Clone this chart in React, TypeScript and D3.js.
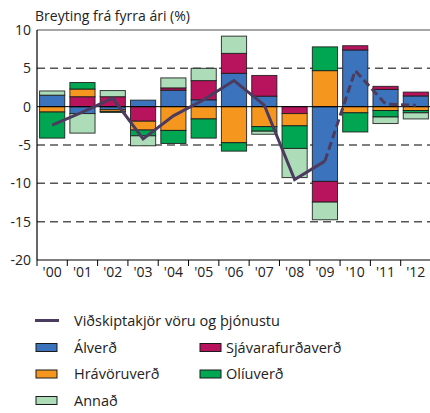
import React from "react";
import * as d3 from "d3";

const years = ["'00", "'01", "'02", "'03", "'04", "'05", "'06", "'07", "'08", "'09", "'10", "'11", "'12"];
const alverd = [1.5, -0.9, -0.4, 0.85, 2.15, 0.9, 4.35, 1.37, 0, -9.75, 7.4, 2.25, 1.4];
const sjavar = [0, 1.3, 1.3, -1.9, 0.3, 2.5, 2.6, 2.7, -0.9, -2.7, 0.55, 0.4, 0.5];
const hravoru = [-0.7, 1.0, -0.25, -1.15, -3.1, -1.6, -4.7, -2.6, -1.6, 4.7, -0.8, -0.5, -0.5];
const oliu = [-3.4, 0.85, -0.1, -0.75, -1.7, -2.5, -1.1, -0.6, -2.95, 3.1, -2.5, -0.85, -0.3];
const annad = [0.55, -2.55, 0.8, -1.3, 1.3, 1.6, 2.25, -0.4, -3.8, -2.3, 0, -0.85, -0.8];
const terms = [-2.4, -0.7, 1.1, -4.2, -1.2, 0.9, 3.4, 0.2, -9.5, -7.1, 4.7, 0.35, 0.18];
const yTicks = [10, 5, 0, -5, -10, -15, -20];

const seriesKeys = ["alverd", "sjavar", "hravoru", "oliu", "annad"];
const seriesNames = ["Álverð", "Sjávarafurðaverð", "Hrávöruverð", "Olíuverð", "Annað"];
const seriesColors = ["#3b74bc", "#b8145d", "#f5961f", "#00a651", "#acdcb8"];
const lineName = "Viðskiptakjör vöru og þjónustu";
const lineColor = "#4b3b5e";
const title = "Breyting frá fyrra ári (%)";

const FONT = "'Open Sans', sans-serif";

export default function App() {
  const left = 37, right = 431, top = 30, bottom = 260;
  const y = d3.scaleLinear().domain([-20, 10]).range([bottom, top]);
  const xb = d3.scaleBand().domain(years).range([left, right]).padding(0);
  const x = d3.scaleBand().domain(years).range([left, right]).paddingInner(0.17).paddingOuter(0.085);

  const table = years.map((yr, i) => ({
    year: yr,
    alverd: alverd[i], sjavar: sjavar[i], hravoru: hravoru[i], oliu: oliu[i], annad: annad[i],
  }));
  const stack = d3.stack<any>().keys(seriesKeys).offset(d3.stackOffsetDiverging);
  const stacked = stack(table);

  const cx = (yr: string) => (xb(yr) as number) + xb.bandwidth() / 2;
  const pts: [number, number][] = years.map((yr, i) => [cx(yr), y(terms[i])]);
  const lineGen = d3.line();
  const solidPath = lineGen(pts.slice(0, 10)) as string;
  const dashPath = lineGen(pts.slice(9)) as string;

  const legendRows = [
    { col: 0, row: 1, i: 0 },
    { col: 1, row: 1, i: 1 },
    { col: 0, row: 2, i: 2 },
    { col: 1, row: 2, i: 3 },
    { col: 0, row: 3, i: 4 },
  ];
  const rowY = (r: number) => 321 + r * 26.5;

  return (
    <svg width={430} height={413} style={{ position: "absolute", left: 0, top: 0 }} fontFamily={FONT}>
      <rect width={430} height={413} fill="#fff" />
      <text x={35} y={21} fontSize={14} fill="#222">{title}</text>

      {/* grid */}
      {yTicks.filter((t) => t !== 0 && t !== 10 && t !== -20).map((t) => (
        <line key={t} x1={left} x2={430} y1={y(t)} y2={y(t)} stroke="#555" strokeWidth={1.5} strokeDasharray="8 5" />
      ))}
      <line x1={left} x2={430} y1={y(10)} y2={y(10)} stroke="#888" strokeWidth={1.5} />

      {/* bars */}
      {stacked.map((s, si) => (
        <g key={s.key} fill={seriesColors[si]}>
          {s.map((d, i) => {
            const v0 = d[0], v1 = d[1];
            if (Math.abs(v1 - v0) < 1e-9) return null;
            const y0 = y(Math.max(v0, v1));
            const y1 = y(Math.min(v0, v1));
            return (
              <rect key={i} x={x(years[i])} y={y0} width={x.bandwidth()} height={y1 - y0}
                stroke="#1a1a1a" strokeWidth={1} strokeOpacity={0.85} />
            );
          })}
        </g>
      ))}

      {/* zero line */}
      <line x1={left} x2={430} y1={y(0)} y2={y(0)} stroke="#000" strokeWidth={1} />

      {/* axes */}
      <line x1={left} x2={left} y1={top} y2={bottom} stroke="#000" strokeWidth={1.2} />
      <line x1={left} x2={430} y1={bottom} y2={bottom} stroke="#000" strokeWidth={1.2} />
      {years.map((yr) => (
        <line key={yr} x1={xb(yr)} x2={xb(yr)} y1={bottom} y2={bottom + 6} stroke="#000" strokeWidth={1} />
      ))}
      {yTicks.map((t) => (
        <text key={t} x={31} y={y(t)} dy="0.36em" textAnchor="end" fontSize={14} fill="#222">{t}</text>
      ))}
      {years.map((yr) => (
        <text key={yr} x={cx(yr)} y={277} textAnchor="middle" fontSize={14} fill="#222">{yr}</text>
      ))}

      {/* terms of trade line */}
      <path d={solidPath} fill="none" stroke={lineColor} strokeWidth={3} strokeLinejoin="miter" />
      <path d={dashPath} fill="none" stroke={lineColor} strokeWidth={3} strokeDasharray="8 4" />

      {/* legend */}
      <line x1={35} x2={59} y1={rowY(0) - 0.5} y2={rowY(0) - 0.5} stroke={lineColor} strokeWidth={3} />
      <text x={74} y={rowY(0) + 5} fontSize={14.5} fill="#222">{lineName}</text>
      {legendRows.map(({ col, row, i }) => {
        const rx = col === 0 ? 36 : 200;
        const tx = col === 0 ? 74 : 226;
        return (
          <g key={i}>
            <rect x={rx} y={rowY(row) - 4} width={21} height={8} fill={seriesColors[i]} stroke="#1a1a1a" strokeWidth={1} />
            <text x={tx} y={rowY(row) + 5} fontSize={14.5} fill="#222">{seriesNames[i]}</text>
          </g>
        );
      })}
    </svg>
  );
}
